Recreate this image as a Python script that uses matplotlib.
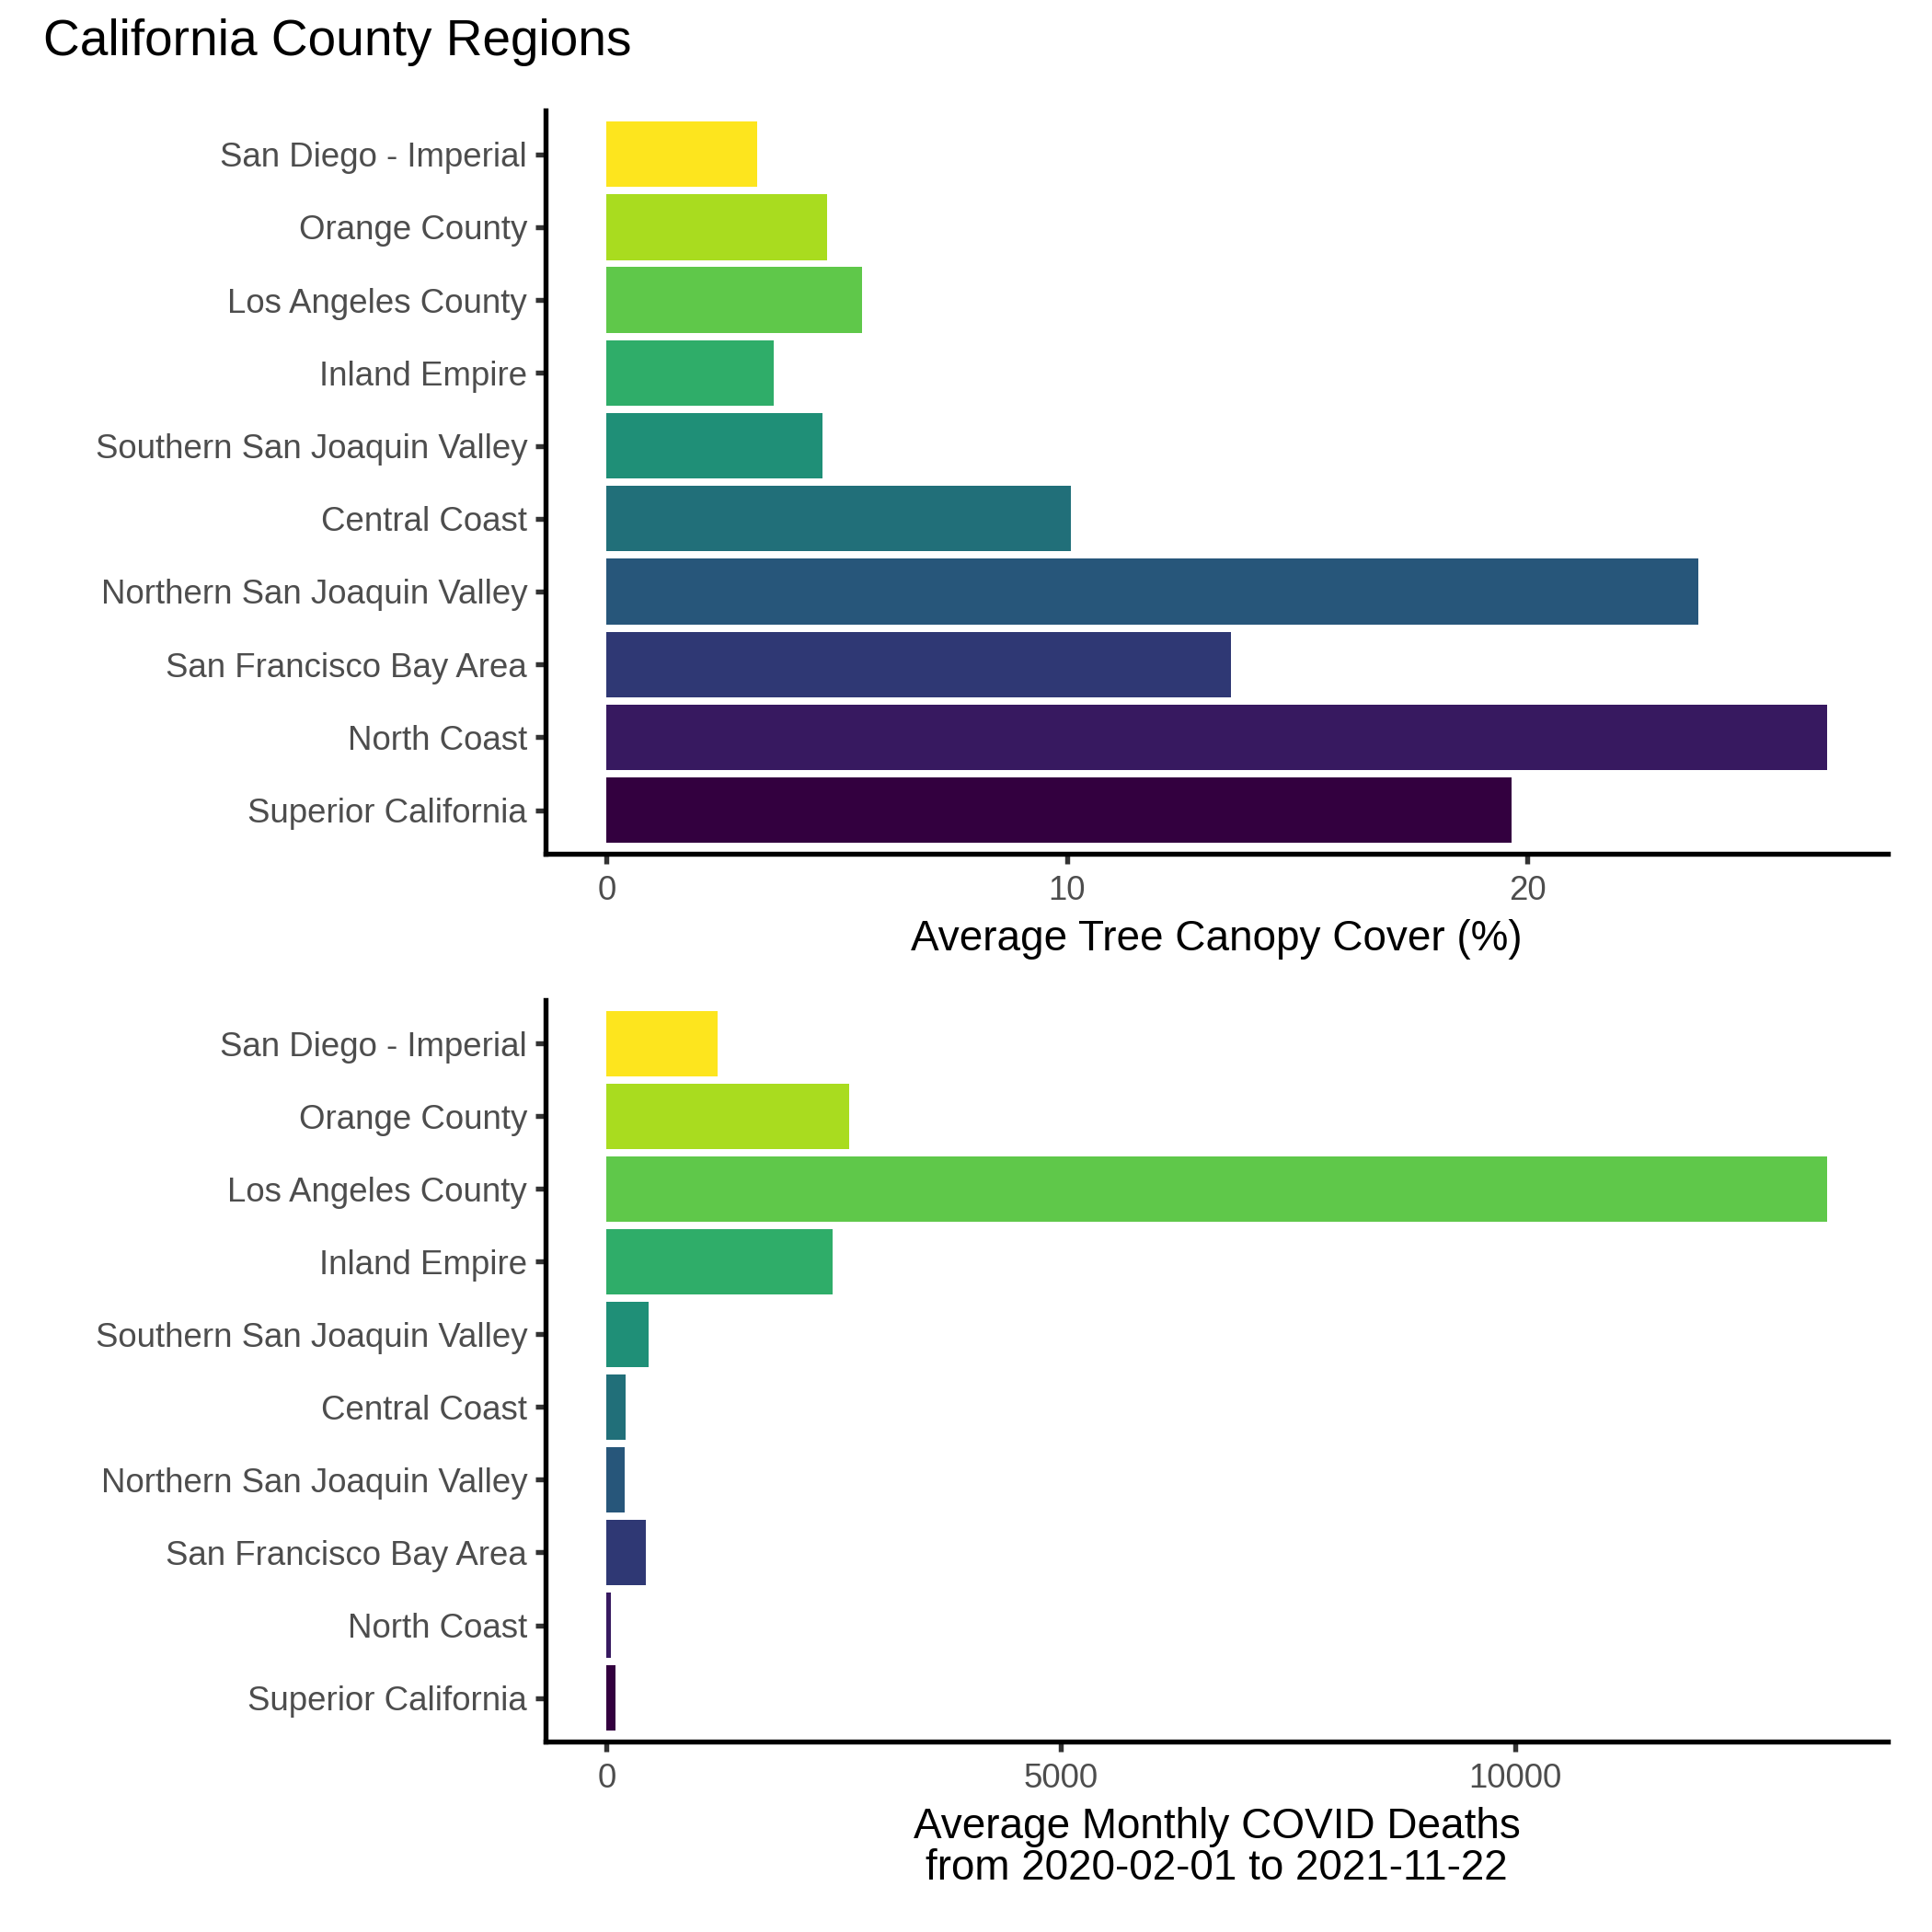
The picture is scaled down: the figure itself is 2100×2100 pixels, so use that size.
# California county regions: tree canopy vs COVID deaths
import matplotlib
matplotlib.use("Agg")
import matplotlib.pyplot as plt

plt.rcParams["font.family"] = ["Liberation Sans", "DejaVu Sans"]

# Data (bottom to top, as drawn)
regions = [
    "Superior California",
    "North Coast",
    "San Francisco Bay Area",
    "Northern San Joaquin Valley",
    "Central Coast",
    "Southern San Joaquin Valley",
    "Inland Empire",
    "Los Angeles County",
    "Orange County",
    "San Diego - Imperial",
]
canopy = [19.66, 26.51, 13.57, 23.72, 10.08, 4.68, 3.63, 5.55, 4.79, 3.28]
deaths = [97, 48, 435, 203, 213, 464, 2486, 13433, 2669, 1219]
canopy_ticks = [0, 10, 20]
deaths_ticks = [0, 5000, 10000]

colors = ["#33003F", "#371960", "#2F3874", "#27567A", "#216F79",
          "#1F8F77", "#2FAD69", "#5FC84A", "#A9DC1F", "#FDE51E"]

fig = plt.figure(figsize=(7, 7), dpi=300)
ax1 = fig.add_axes([0.2824, 0.558, 0.6948, 0.3848])
ax2 = fig.add_axes([0.2824, 0.0986, 0.6948, 0.3838])


def style(ax, values, ticks, xlabel):
    pos = list(range(1, len(regions) + 1))
    ax.barh(pos, values, height=0.9, color=colors, edgecolor="none")
    vmax = max(values)
    ax.set_xlim(-0.05 * vmax, 1.05 * vmax)
    ax.set_ylim(0.4, len(regions) + 0.6)
    ax.set_yticks(pos)
    ax.set_yticklabels(regions)
    ax.set_xticks(ticks)
    ax.set_xticklabels([str(t) for t in ticks])
    for s in ["top", "right"]:
        ax.spines[s].set_visible(False)
    for s in ["left", "bottom"]:
        ax.spines[s].set_linewidth(1.3)
        ax.spines[s].set_color("black")
    ax.tick_params(axis="both", length=2.75, width=1.3, color="#333333",
                   labelsize=8.8, labelcolor="#4D4D4D")
    ax.tick_params(axis="y", pad=2)
    ax.tick_params(axis="x", pad=2.8)
    ax.set_xlabel(xlabel, fontsize=11, color="black", labelpad=3, linespacing=1.05)


style(ax1, canopy, canopy_ticks, "Average Tree Canopy Cover (%)")
style(ax2, deaths, deaths_ticks,
      "Average Monthly COVID Deaths\nfrom 2020-02-01 to 2021-11-22")

fig.text(0.0224, 0.978, "California County Regions", fontsize=13.2,
         ha="left", va="center", color="black")

fig.savefig("out.png", dpi=300)
